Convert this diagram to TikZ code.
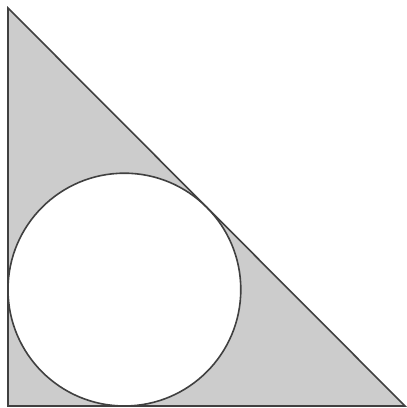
\documentclass[tikz,border=0pt]{standalone}
\definecolor{shade}{HTML}{CCCCCC}
\definecolor{edge}{HTML}{404040}
\begin{document}
\begin{tikzpicture}[x=1pt,y=1pt,
  outline/.style={draw=edge,line width=1.6pt,line join=miter}]
\useasboundingbox (0,0) rectangle (407,408);
\coordinate (A) at (8,400);
\coordinate (B) at (8,2);
\coordinate (C) at (405,2);
\path[fill=shade] (A) -- (B) -- (C) -- cycle;
\def\r{116.4}
\coordinate (O) at (8+\r,2+\r);
\draw[outline,fill=white] (O) circle[radius=\r];
\draw[outline] (A) -- (B) -- (C) -- cycle;
\end{tikzpicture}
\end{document}
